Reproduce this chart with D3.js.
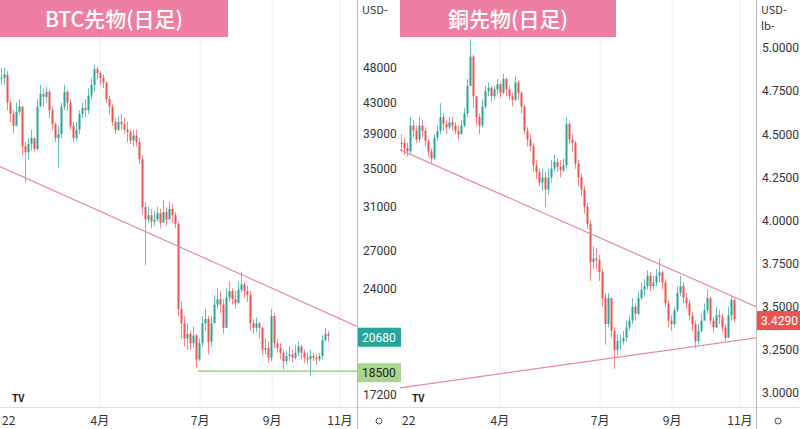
<!DOCTYPE html>
<html><head><meta charset="utf-8">
<script src="https://cdn.jsdelivr.net/npm/d3@7"></script>
<style>body{margin:0;background:#fff}svg{display:block;font-family:"Noto Sans CJK JP","Noto Sans",sans-serif}</style>
</head><body><svg id="c" width="800" height="429"></svg>
<script>
// BTC futures daily (sampled): close, high, low (thousand USD)
const btcClose=[46.5,47,43,41.5,40,41.8,42.5,37.5,36.8,37.8,38.5,37.2,42.5,44.2,43.8,44.5,42,40.2,38.5,39,42.5,44.5,43,40,38.5,39.5,41.5,42.3,42,44,45.5,47.8,47.2,46.5,45.8,43.5,42.5,40.5,39.5,40.5,40.2,39.5,39.2,38.2,38.8,38,36,31,29.8,30.2,29.6,29.8,30.4,29.5,30.5,29.8,30.8,30.2,29.4,22.5,21.5,20.5,20.8,20.2,20.7,19.2,20.2,21.5,21.8,20.3,21.5,22.8,23.2,22.8,21.2,23.3,23.8,23.2,22.9,23.9,24.3,23.8,23.5,21.5,21.2,21.5,21.2,19.8,19.9,19.3,22,20.2,19.9,19.6,19.1,19.4,19.5,19.3,19.6,20,19.6,19.3,19.2,19.4,19.3,19.2,19.4,20.4,20.8,20.68];
const btcHigh=[48,48,47.5,43.5,42,43,43.5,42.5,38,38.5,39.5,38.5,43.5,45.5,45,45.2,44.8,42.5,40.5,40,43,45.5,44.8,43.5,40.5,40.5,42,43,43.5,45,46.5,48.5,48.2,47.5,47,46,44,42.8,41,41.2,41.5,41,40.5,39.5,39.5,39.5,38.5,36.5,31.5,31,30.8,30.6,31,30.8,31.7,31,31.5,31.3,30.5,29.6,23,22,21.5,21,21.3,20.8,20.5,22,22.5,22,22,23.5,24,23.8,23.2,24,24.5,24,23.8,24.5,25.3,24.5,24.2,23.8,21.8,21.9,21.6,21.3,20.5,20.3,22.5,22.2,20.5,20.2,19.8,19.7,20,19.8,20.1,20.3,20.1,19.8,19.6,19.8,19.6,19.5,19.6,20.7,21.2,21];
const btcLow=[45.5,45.5,42,40.5,39,40.5,41.5,36.5,33.5,36,37,36.8,37,42.5,42.5,43,41,39.5,38,35,38.5,42,42,39.5,38,38.2,39,41,41,41.5,43.5,44.5,46.3,45.5,45,43,41.5,40,39,39.3,39.5,39,38,37.8,37.5,37.5,35.5,30.3,25.8,29.5,29,29.2,29.6,29,29.8,29.2,30,29.5,29,22,20.5,20,19.8,19.8,19.9,18.7,19.1,20,21,19.5,20,21.8,22.5,22.2,20.8,21.5,23,22.8,22.5,23,23.7,23.3,23,21,20.8,20.9,20.5,19.5,19.5,19,19.1,19.9,19.6,19.2,18.6,18.9,19.1,19,19.2,19.4,19.2,19,18.9,18.2,19.1,18.9,19.1,19.2,20.3,20.3];
// Copper futures daily (sampled): close, high, low (USD/lb)
const cuClose=[4.45,4.42,4.40,4.55,4.52,4.47,4.55,4.52,4.46,4.40,4.36,4.48,4.52,4.60,4.56,4.54,4.57,4.55,4.52,4.50,4.55,4.62,4.78,4.95,4.72,4.6,4.55,4.66,4.75,4.77,4.72,4.76,4.79,4.74,4.82,4.76,4.72,4.70,4.80,4.74,4.66,4.52,4.47,4.43,4.32,4.28,4.22,4.25,4.18,4.25,4.30,4.34,4.31,4.29,4.32,4.56,4.47,4.45,4.33,4.25,4.18,4.08,3.98,3.76,3.78,3.77,3.70,3.55,3.40,3.55,3.36,3.25,3.30,3.30,3.32,3.38,3.42,3.50,3.46,3.55,3.60,3.62,3.68,3.62,3.64,3.68,3.70,3.64,3.52,3.42,3.40,3.48,3.58,3.62,3.55,3.52,3.45,3.40,3.30,3.36,3.42,3.48,3.55,3.42,3.38,3.45,3.44,3.38,3.32,3.45,3.54,3.429];
const cuHigh=[4.5,4.48,4.45,4.6,4.58,4.55,4.6,4.58,4.54,4.47,4.42,4.5,4.55,4.68,4.62,4.58,4.6,4.6,4.57,4.55,4.58,4.65,4.82,5.05,4.96,4.72,4.62,4.7,4.78,4.8,4.78,4.78,4.82,4.8,4.85,4.83,4.78,4.74,4.84,4.81,4.75,4.67,4.54,4.5,4.45,4.35,4.3,4.3,4.28,4.3,4.35,4.38,4.36,4.35,4.36,4.6,4.57,4.5,4.46,4.35,4.27,4.2,4.1,4.0,3.85,3.84,3.8,3.72,3.58,3.58,3.55,3.38,3.34,3.34,3.36,3.42,3.45,3.55,3.52,3.59,3.64,3.66,3.71,3.7,3.68,3.72,3.78,3.71,3.66,3.54,3.45,3.5,3.62,3.68,3.64,3.58,3.54,3.47,3.42,3.4,3.46,3.52,3.6,3.56,3.44,3.5,3.48,3.46,3.4,3.5,3.56,3.55];
const cuLow=[4.4,4.38,4.37,4.38,4.48,4.45,4.45,4.48,4.43,4.37,4.33,4.35,4.46,4.5,4.52,4.5,4.53,4.52,4.5,4.47,4.5,4.54,4.6,4.78,4.65,4.55,4.5,4.54,4.65,4.72,4.69,4.7,4.73,4.71,4.73,4.72,4.7,4.66,4.69,4.7,4.62,4.5,4.43,4.4,4.28,4.24,4.2,4.17,4.08,4.15,4.22,4.28,4.28,4.25,4.28,4.3,4.44,4.4,4.3,4.2,4.14,4.04,3.95,3.65,3.72,3.72,3.65,3.5,3.28,3.38,3.32,3.14,3.22,3.25,3.28,3.3,3.36,3.4,3.42,3.45,3.54,3.56,3.6,3.59,3.6,3.62,3.64,3.6,3.5,3.38,3.36,3.38,3.47,3.56,3.52,3.49,3.42,3.36,3.26,3.28,3.35,3.42,3.46,3.4,3.35,3.38,3.4,3.35,3.3,3.33,3.42,3.41];
// time axis: month labels at candle-index positions
const monthLabels=["22","4月","7月","9月","11月"];
const monthPos=[1.7,33.3,66.7,90.7,113.3];
const btcTicks=[48000,43000,39000,35000,31000,27000,24000,17200];
const cuTicks=[5.0,4.75,4.5,4.25,4.0,3.75,3.5,3.25,3.0];
const btcTrend=[[0,35200],[119,21300]];
const btcSupport=[[66,18500],[119,18500]];
const cuUpper=[[0,4.41],[118.7,3.5]];
const cuLower=[[0,3.03],[118.7,3.32]];

const svg=d3.select("#c");
const UP="#26a69a",DN="#ef5350";
function panel(ox,w,close,high,low,y,ticks,fmt,title,titleW,lines,units,last,lastCol,extra){
  const g=svg.append("g").attr("transform",`translate(${ox},0)`);
  const x=d3.scaleLinear().domain([0,119]).range([0,357]);
  const cid="clip"+ox;
  g.append("clipPath").attr("id",cid).append("rect").attr("width",w).attr("height",407);
  g.selectAll(".vg").data(monthPos.slice(1)).join("line").attr("x1",d=>x(d)).attr("x2",d=>x(d)).attr("y1",0).attr("y2",407).attr("stroke","#f0f0f0");
  const p=g.append("g").attr("clip-path",`url(#${cid})`);
  const data=close.map((c,i)=>({i,c,o:i?close[i-1]:c,h:high[i],l:low[i]}));
  const xc=d=>x(d.i)+1.5;
  p.selectAll(".w").data(data).join("line").attr("x1",xc).attr("x2",xc).attr("y1",d=>y(d.h)).attr("y2",d=>y(d.l)).attr("stroke",d=>d.c>=d.o?UP:DN).attr("stroke-opacity",0.7);
  p.selectAll(".b").data(data).join("rect").attr("x",d=>xc(d)-1).attr("width",2).attr("y",d=>y(Math.max(d.o,d.c))).attr("height",d=>Math.max(1,Math.abs(y(d.o)-y(d.c)))).attr("fill",d=>d.c>=d.o?UP:DN);
  lines.forEach(([pts,col])=>p.append("line").attr("x1",x(pts[0][0])).attr("y1",y(pts[0][1])).attr("x2",x(pts[1][0])).attr("y2",y(pts[1][1])).attr("stroke",col).attr("stroke-width",1.2));
  g.append("line").attr("x1",0).attr("x2",w+43).attr("y1",407.5).attr("y2",407.5).attr("stroke","#ddd");
  g.append("line").attr("x1",w+0.5).attr("x2",w+0.5).attr("y1",0).attr("y2",429).attr("stroke","#b8b8b8");
  const ya=g.append("g").attr("transform",`translate(${w},0)`).call(d3.axisRight(y).tickValues(ticks).tickFormat(fmt).tickSize(0).tickPadding(6));
  ya.select(".domain").remove();
  ya.selectAll("text").attr("font-size",12).attr("fill","#333").attr("font-family","Roboto,sans-serif");
  g.selectAll(".ml").data(monthLabels).join("text").attr("x",(d,i)=>i?x(monthPos[i]):2).attr("y",425).attr("text-anchor",(d,i)=>i?"middle":"start").attr("font-size",12).attr("fill","#333").text(d=>d);
  g.append("circle").attr("cx",w+22).attr("cy",421).attr("r",3).attr("fill","none").attr("stroke","#555");
  g.append("text").attr("x",12).attr("y",402).attr("font-size",10).attr("font-weight","bold").attr("fill","#222").text("TV");
  units.forEach((u,k)=>g.append("text").attr("x",w+5).attr("y",14+k*16).attr("font-size",11).attr("fill","#333").text(u+"-"));
  [[last,lastCol,"#fff"]].concat(extra).forEach(([v,bg,fg])=>{
    const yy=y(v)+1;
    g.append("rect").attr("x",w+1).attr("y",yy-9).attr("width",43).attr("height",19).attr("fill",bg);
    g.append("text").attr("x",w+5).attr("y",yy+5).attr("font-size",12).attr("fill",fg).attr("font-family","Roboto,sans-serif").text(fmt(v));
  });
  g.append("rect").attr("x",0).attr("y",0).attr("width",titleW).attr("height",37).attr("fill","#ee7fa2");
  g.append("text").attr("x",titleW/2).attr("y",27).attr("text-anchor","middle").attr("font-size",21).attr("font-weight",500).attr("fill","#fff").text(title);
}
const yB=d3.scaleLog().domain([59400,16530]).range([0,407]);
const yC=d3.scaleLinear().domain([5.278,2.919]).range([0,407]);
const btcScaled=a=>a.map(v=>v*1000);
panel(0,357,btcScaled(btcClose),btcScaled(btcHigh),btcScaled(btcLow),yB,btcTicks,d3.format("d"),"BTC先物(日足)",228,
  [[btcTrend,"#e98aa3"],[btcSupport,"#8cc96c"]],["USD"],20680,UP,[[18500,"#a8d68f","#222"]]);
panel(400,356,cuClose,cuHigh,cuLow,yC,cuTicks,d3.format(".4f"),"銅先物(日足)",216,
  [[cuUpper,"#e98aa3"],[cuLower,"#e98aa3"]],["USD","lb"],3.429,DN,[]);
</script></body></html>
